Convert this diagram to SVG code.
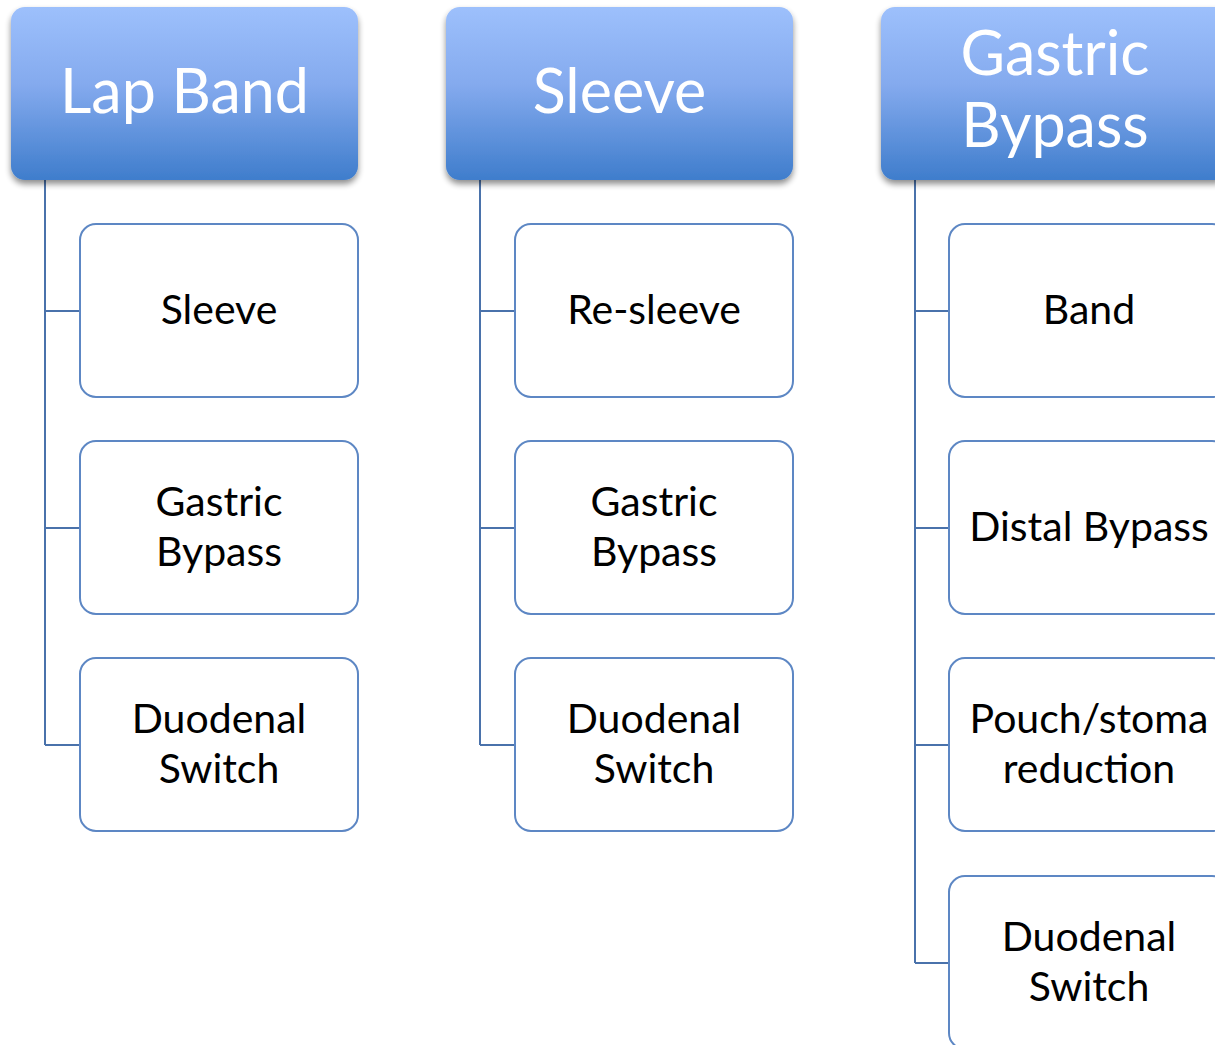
<svg xmlns="http://www.w3.org/2000/svg" width="1215" height="1045" viewBox="0 0 1215 1045">
<defs>
<linearGradient id="hg" x1="0" y1="0" x2="0" y2="1">
<stop offset="0" stop-color="#9dc0fc"/>
<stop offset="0.45" stop-color="#84aaee"/>
<stop offset="1" stop-color="#3f7dcc"/>
</linearGradient>
<filter id="sh" x="-10%" y="-10%" width="120%" height="130%">
<feGaussianBlur in="SourceAlpha" stdDeviation="3"/>
<feOffset dx="0" dy="4"/>
<feComponentTransfer><feFuncA type="linear" slope="0.45"/></feComponentTransfer>
<feMerge><feMergeNode/><feMergeNode in="SourceGraphic"/></feMerge>
</filter>
</defs>
<style>
.hd{fill:url(#hg);filter:url(#sh)}
.ch{fill:#fff;stroke:#5d87c4;stroke-width:2}
.ht{font-family:Lato,"Open Sans",sans-serif;font-size:61px;fill:#fff;text-anchor:middle}
.ct{font-family:Lato,"Open Sans",sans-serif;font-size:41px;fill:#000;text-anchor:middle}
.cn{fill:none;stroke:#4a72ab;stroke-width:2}
</style>
<g id="connectors">
<path class="cn" d="M45,180V745M45,311H80M45,528H80M45,745H80"/>
<path class="cn" d="M480,180V745M480,311H515M480,528H515M480,745H515"/>
<path class="cn" d="M915,180V963M915,311H949M915,528H949M915,745H949M915,963H949"/>
</g>
<g id="h1"><rect class="hd" x="11" y="7" width="347" height="173" rx="14"/><text class="ht" x="184.5" y="113">Lap Band</text></g>
<g id="h2"><rect class="hd" x="446" y="7" width="347" height="173" rx="14"/><text class="ht" x="619.5" y="113">Sleeve</text></g>
<g id="h3"><rect class="hd" x="881" y="7" width="347" height="173" rx="14"/><text class="ht" x="1055" y="75">Gastric</text><text class="ht" x="1055" y="147">Bypass</text></g>
<g id="c11"><rect class="ch" x="80" y="224" width="278" height="173" rx="16"/><text class="ct" x="219" y="324">Sleeve</text></g>
<g id="c12"><rect class="ch" x="80" y="441" width="278" height="173" rx="16"/><text class="ct" x="219" y="516">Gastric</text><text class="ct" x="219" y="566">Bypass</text></g>
<g id="c13"><rect class="ch" x="80" y="658" width="278" height="173" rx="16"/><text class="ct" x="219" y="733">Duodenal</text><text class="ct" x="219" y="783">Switch</text></g>
<g id="c21"><rect class="ch" x="515" y="224" width="278" height="173" rx="16"/><text class="ct" x="654" y="324">Re-sleeve</text></g>
<g id="c22"><rect class="ch" x="515" y="441" width="278" height="173" rx="16"/><text class="ct" x="654" y="516">Gastric</text><text class="ct" x="654" y="566">Bypass</text></g>
<g id="c23"><rect class="ch" x="515" y="658" width="278" height="173" rx="16"/><text class="ct" x="654" y="733">Duodenal</text><text class="ct" x="654" y="783">Switch</text></g>
<g id="c31"><rect class="ch" x="949" y="224" width="279" height="173" rx="16"/><text class="ct" x="1089" y="324">Band</text></g>
<g id="c32"><rect class="ch" x="949" y="441" width="279" height="173" rx="16"/><text class="ct" x="1089" y="541">Distal Bypass</text></g>
<g id="c33"><rect class="ch" x="949" y="658" width="279" height="173" rx="16"/><text class="ct" x="1089" y="733">Pouch/stoma</text><text class="ct" x="1089" y="783">reduction</text></g>
<g id="c34"><rect class="ch" x="949" y="876" width="279" height="173" rx="16"/><text class="ct" x="1089" y="951">Duodenal</text><text class="ct" x="1089" y="1001">Switch</text></g>
</svg>
